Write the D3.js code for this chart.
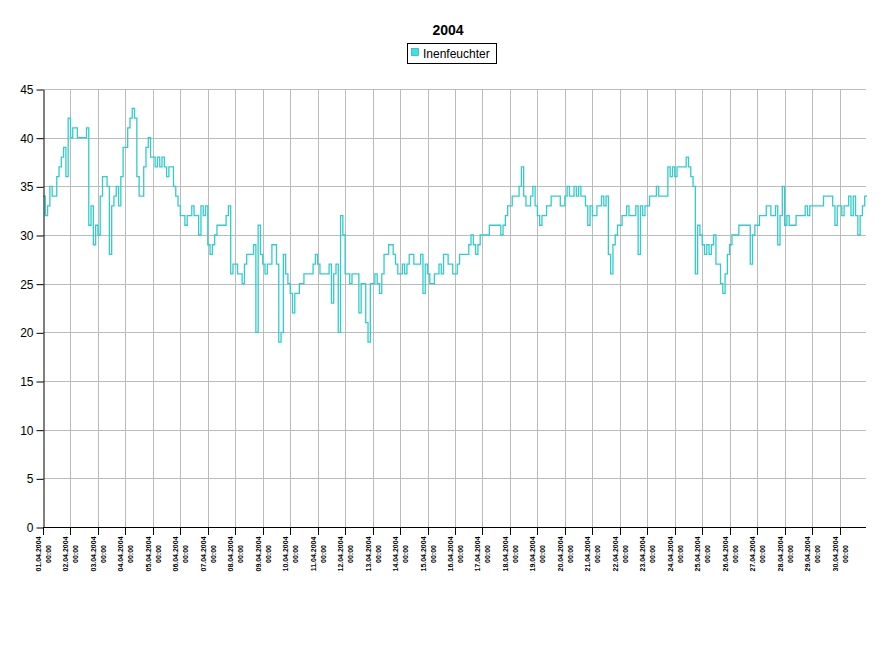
<!DOCTYPE html>
<html>
<head>
<meta charset="utf-8">
<script src="https://cdn.jsdelivr.net/npm/d3@7"></script>
<style>
  html, body { margin: 0; padding: 0; background: #fff; }
  svg { display: block; font-family: "Liberation Sans", Arial, sans-serif; }
</style>
</head>
<body>
<svg id="chart" width="896" height="662"></svg>
<script>
// ---- data (2-hour samples, April 2004) ----
const chartTitle = "2004";
const seriesName = "Inenfeuchter";
const startDate = "2004-04-01T00:00:00Z";
const endDate = "2004-05-01T00:00:00Z";
const stepHours = 2;
const yTicks = [0, 5, 10, 15, 20, 25, 30, 35, 40, 45];
const humidity = [
  34,32,33,35,34,34,36,37,38,39,36,42,
  40,41,41,40,40,40,40,41,31,33,29,31,
  30,34,36,36,35,28,33,34,35,33,36,39,
  39,41,42,43,42,36,34,34,37,39,40,38,
  38,37,38,37,38,37,36,37,37,35,34,33,
  32,32,31,32,32,33,32,32,30,33,32,33,
  29,28,29,30,31,31,31,31,32,33,26,27,
  27,26,26,25,27,28,28,28,29,20,31,28,
  27,26,27,27,29,29,27,19,20,28,26,25,
  24,22,24,24,25,25,26,26,26,26,27,28,
  27,26,26,26,26,27,23,26,27,20,32,30,
  26,26,25,26,26,26,22,25,25,21,19,25,
  25,26,25,24,26,28,28,29,29,28,27,26,
  26,27,26,27,28,28,27,27,27,28,24,27,
  26,25,25,26,26,27,26,28,28,27,27,26,
  26,27,28,28,28,28,29,30,29,28,29,30,
  30,30,30,31,31,31,31,31,30,31,32,33,
  33,34,34,34,35,37,34,33,33,34,35,33,
  32,31,32,32,33,33,34,34,34,34,33,33,
  34,35,34,34,35,34,35,34,34,33,31,33,
  32,32,33,33,34,33,34,28,26,29,30,31,
  31,32,32,33,32,32,32,33,28,33,32,33,
  33,34,34,34,35,34,34,34,34,37,36,37,
  36,37,37,37,37,38,37,36,35,26,31,30,
  29,28,29,28,29,30,27,27,25,24,26,28,
  29,30,30,30,31,31,31,31,31,27,30,31,
  31,32,32,32,33,33,32,32,33,29,32,35,
  31,32,31,31,31,32,32,32,32,33,32,33,
  33,33,33,33,33,34,34,34,34,33,31,33,
  33,32,33,33,34,32,34,32,30,32,33,34
];

// ---- layout ----
const svg = d3.select("#chart");
const mLeft = 43, mRight = 867, mTop = 89, mBottom = 527;
const t0 = new Date(startDate), t1 = new Date(endDate);

const x = d3.scaleUtc().domain([t0, t1]).range([mLeft, mRight]);
const y = d3.scaleLinear().domain([0, 45]).range([mBottom, mTop]);

const points = humidity.map((v, i) => ({ t: d3.utcHour.offset(t0, i * stepHours), v }));
points.push({ t: t1, v: humidity[humidity.length - 1] });

const days = d3.utcDay.range(t0, t1);

// gridlines
const grid = svg.append("g").attr("stroke", "#bbbbbb").attr("stroke-width", 1);
grid.selectAll("line.h").data(yTicks.filter(d => d > 0)).join("line")
  .attr("x1", mLeft).attr("x2", mRight - 1)
  .attr("y1", d => Math.round(y(d)) + 0.5).attr("y2", d => Math.round(y(d)) + 0.5);
grid.selectAll("line.v").data(days.slice(1)).join("line")
  .attr("x1", d => Math.round(x(d)) + 0.5).attr("x2", d => Math.round(x(d)) + 0.5)
  .attr("y1", mTop).attr("y2", mBottom);

// series line
const line = d3.line().curve(d3.curveStepAfter)
  .x(d => x(d.t)).y(d => y(d.v));
svg.append("path").datum(points)
  .attr("fill", "none").attr("stroke", "#33cccc").attr("stroke-width", 1.3)
  .attr("d", line);

// y axis
const yAxis = svg.append("g").attr("transform", `translate(${mLeft + 0.5},0.5)`)
  .call(d3.axisLeft(y).tickValues(yTicks).tickSize(7).tickPadding(3).tickSizeOuter(0));
yAxis.selectAll("text").attr("font-size", 12).attr("fill", "#000")
  .attr("font-family", "Liberation Sans, Arial, sans-serif");
yAxis.selectAll("line, path").attr("stroke", "#000");

// x axis
const xg = svg.append("g");
xg.append("line").attr("x1", mLeft).attr("x2", mRight - 1)
  .attr("y1", mBottom + 0.5).attr("y2", mBottom + 0.5).attr("stroke", "#000");
const fmtDate = d3.utcFormat("%d.%m.%Y");
const fmtTime = d3.utcFormat("%H:%M");
const tk = xg.selectAll("g.tick").data(days).join("g")
  .attr("transform", d => `translate(${Math.round(x(d)) + 0.5},0)`);
tk.append("line").attr("y1", mBottom).attr("y2", mBottom + 8).attr("stroke", "#000");
tk.append("text").attr("transform", `translate(-3,554) rotate(-90)`)
  .attr("text-anchor", "middle").attr("font-size", 7).attr("font-weight", "bold")
  .attr("fill", "#000").text(d => fmtDate(d));
tk.append("text").attr("transform", `translate(7,554) rotate(-90)`)
  .attr("text-anchor", "middle").attr("font-size", 7).attr("font-weight", "bold")
  .attr("fill", "#000").text(d => fmtTime(d));

// title
svg.append("text").attr("x", 448).attr("y", 35).attr("text-anchor", "middle")
  .attr("font-size", 14).attr("font-weight", "bold").text(chartTitle);

// legend
const lg = svg.append("g");
lg.append("rect").attr("x", 407.5).attr("y", 43.5).attr("width", 89).attr("height", 20)
  .attr("fill", "#fff").attr("stroke", "#000");
lg.append("rect").attr("x", 411.5).attr("y", 48.5).attr("width", 7).attr("height", 7)
  .attr("fill", "#33e6e6").attr("stroke", "#229999").attr("stroke-width", 0.6);
lg.append("text").attr("x", 423).attr("y", 58).attr("font-size", 12).text(seriesName);
</script>
</body>
</html>
